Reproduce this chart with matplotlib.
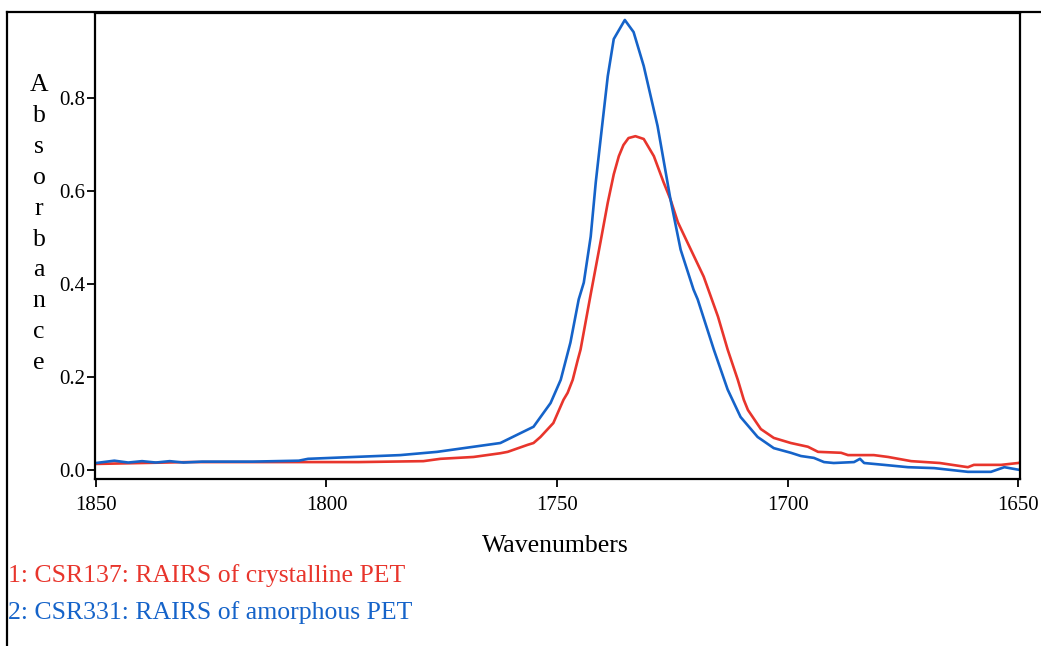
import matplotlib
matplotlib.use('Agg')
import matplotlib.pyplot as plt
from matplotlib.lines import Line2D

# spectra (wavenumber, absorbance)
wn_crystalline = [1850, 1830, 1804, 1793, 1779, 1775.3, 1768.1, 1762.3, 1760.7, 1756.4,
                  1755.1, 1753.6, 1750.8, 1748.6, 1747.7, 1746.6, 1745.5, 1744.9, 1742.7,
                  1740.6, 1739.0, 1737.7, 1736.6, 1735.6, 1734.5, 1733.0, 1731.2, 1729.0,
                  1726.9, 1725.4, 1723.8, 1721.7, 1718.2, 1715.1, 1713.0, 1710.8, 1709.5,
                  1708.6, 1705.8, 1703.0, 1699.3, 1695.6, 1693.4, 1688.4, 1686.9, 1681.3,
                  1678.2, 1673.2, 1667.0, 1660.9, 1659.6, 1653.7, 1650.0, 1649.6]
abs_crystalline = [0.013, 0.017, 0.017, 0.017, 0.019, 0.024, 0.028, 0.036, 0.039, 0.054,
                   0.058, 0.071, 0.101, 0.151, 0.166, 0.194, 0.237, 0.259, 0.378,
                   0.489, 0.575, 0.636, 0.675, 0.699, 0.714, 0.718, 0.712, 0.675,
                   0.619, 0.582, 0.533, 0.489, 0.416, 0.330, 0.259, 0.194, 0.151,
                   0.129, 0.088, 0.069, 0.058, 0.050, 0.039, 0.037, 0.032, 0.032,
                   0.028, 0.019, 0.015, 0.006, 0.011, 0.011, 0.015, 0.016]

wn_amorphous = [1850, 1846, 1843, 1840, 1837, 1834, 1831, 1827, 1816, 1806, 1804, 1794,
                1784, 1776, 1762.3, 1755.1, 1751.4, 1749.2, 1747.1, 1745.3, 1744.2,
                1742.7, 1741.6, 1740.8, 1739.0, 1737.7, 1735.3, 1733.4, 1731.2, 1728.2,
                1725.4, 1723.2, 1720.4, 1719.5, 1716.0, 1713.0, 1710.2, 1706.5, 1703.0,
                1699.3, 1697.1, 1694.3, 1692.1, 1690.0, 1685.6, 1684.3, 1683.4, 1679.1,
                1673.9, 1668.2, 1660.9, 1655.9, 1653.0, 1649.6]
abs_amorphous = [0.015, 0.020, 0.016, 0.019, 0.016, 0.019, 0.016, 0.018, 0.018, 0.020,
                 0.024, 0.028, 0.032, 0.039, 0.058, 0.093, 0.144, 0.194, 0.274, 0.367,
                 0.403, 0.502, 0.619, 0.690, 0.847, 0.927, 0.968, 0.942, 0.869, 0.740,
                 0.582, 0.474, 0.388, 0.367, 0.259, 0.173, 0.114, 0.071, 0.047,
                 0.037, 0.030, 0.026, 0.017, 0.015, 0.017, 0.024, 0.015, 0.011,
                 0.006, 0.004, -0.004, -0.004, 0.006, 0.0]

x_ticks = [1850, 1800, 1750, 1700, 1650]
y_ticks = [0.0, 0.2, 0.4, 0.6, 0.8]
legend_labels = ['1: CSR137: RAIRS of crystalline PET', '2: CSR331: RAIRS of amorphous PET']

RED = '#e8352c'
BLUE = '#1563c9'

plt.rcParams['font.family'] = 'Liberation Serif'

fig = plt.figure(figsize=(10.41, 6.46), dpi=100)
ax = fig.add_axes([95 / 1041, 1 - 479 / 646, 925 / 1041, 466 / 646])

ax.plot(wn_crystalline, abs_crystalline, color=RED, lw=1.9)
ax.plot(wn_amorphous, abs_amorphous, color=BLUE, lw=1.9)

ax.set_xlim(1850.2, 1649.6)
ax.set_ylim(-0.0194, 0.983)
ax.set_xticks(x_ticks)
ax.set_xticklabels([str(t) for t in x_ticks])
ax.set_yticks(y_ticks)
ax.set_yticklabels(['%.1f' % t for t in y_ticks])
ax.tick_params(axis='both', labelsize=15, length=6, width=1.3, direction='out')
ax.tick_params(axis='x', pad=6)
ax.tick_params(axis='y', pad=1)
for s in ax.spines.values():
    s.set_linewidth(1.6)

# axis titles
fig.text(555 / 1041, 1 - 546 / 646, 'Wavenumbers', fontsize=18.5,
         ha='center', va='center')
for i, ch in enumerate('Absorbance'):
    fig.text(39 / 1041, 1 - (85 + i * 30.9) / 646, ch, fontsize=18.5,
             ha='center', va='center')

# legend lines of text under the plot
fig.text(8 / 1041, 1 - 576 / 646, legend_labels[0], fontsize=18.5, color=RED,
         ha='left', va='center')
fig.text(8 / 1041, 1 - 613 / 646, legend_labels[1], fontsize=18.5, color=BLUE,
         ha='left', va='center')

# outer frame of the printout
fig.add_artist(Line2D([7 / 1041, 7 / 1041], [0, 1 - 12 / 646], color='k', lw=1.6))
fig.add_artist(Line2D([7 / 1041, 1], [1 - 12 / 646, 1 - 12 / 646], color='k', lw=1.6))

fig.savefig('out.png', dpi=100)
